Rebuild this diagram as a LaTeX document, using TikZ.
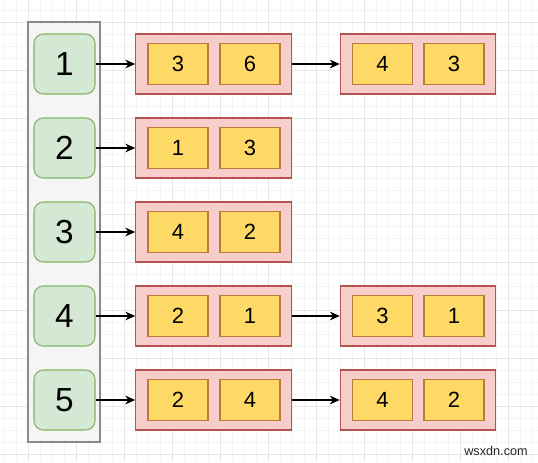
\documentclass[tikz,border=0pt]{standalone}
\usepackage{fontspec}
\setmainfont{Liberation Sans}
\usetikzlibrary{arrows.meta}
\definecolor{gridminor}{HTML}{F4F4F4}
\definecolor{gridmajor}{HTML}{E6E6E6}
\definecolor{contfill}{HTML}{F5F5F5}
\definecolor{contdraw}{HTML}{8A8A8A}
\definecolor{greenfill}{HTML}{D5E8D4}
\definecolor{greendraw}{HTML}{82B366}
\definecolor{pinkfill}{HTML}{F8CECC}
\definecolor{pinkdraw}{HTML}{B85450}
\definecolor{yelfill}{HTML}{FFD966}
\definecolor{yeldraw}{HTML}{B97A3C}
\begin{document}
\begin{tikzpicture}[x=0.75pt,y=-0.75pt,
  minorgrid/.style={draw=gridminor,line width=0.5pt},
  majorgrid/.style={draw=gridmajor,line width=0.6pt},
  container/.style={draw=contdraw,fill=contfill,line width=1.3pt,minimum width=54pt,minimum height=315pt,inner sep=0pt},
  greenbox/.style={draw=greendraw,fill=greenfill,line width=0.8pt,rounded corners=7pt,minimum width=45.75pt,minimum height=45pt,inner sep=0pt,font=\fontsize{25}{29}\selectfont},
  pinkbox/.style={draw=pinkdraw,fill=pinkfill,line width=0.8pt,minimum width=116.5pt,minimum height=45pt,inner sep=0pt},
  yelbox/.style={draw=yeldraw,fill=yelfill,line width=0.8pt,minimum width=45pt,minimum height=30.75pt,inner sep=0pt,font=\fontsize{16.5}{19}\selectfont},
  arr/.style={draw=black,line width=1.2pt,-{Stealth[length=7.5pt,width=6.5pt]}}]
\useasboundingbox (0,0) rectangle (538,462);
\fill[white] (0,0) rectangle (538,462);
\foreach \x in {4,16,...,536} \draw[minorgrid] (\x,0) -- (\x,462);
\foreach \y in {10,22,...,460} \draw[minorgrid] (0,\y) -- (538,\y);
\foreach \x in {28,76,...,536} \draw[majorgrid] (\x,0) -- (\x,462);
\foreach \y in {22,70,...,460} \draw[majorgrid] (0,\y) -- (538,\y);
\node[container] (col) at (64,232) {};
\foreach \r/\a/\b [evaluate=\r as \yc using {64+84*(\r-1)}] in {1/3/6,2/1/3,3/4/2,4/2/1,5/2/4} {
  \node[greenbox] (g\r) at (64.5,\yc) {\r};
  \node[pinkbox] (pa\r) at (213.5,\yc) {};
  \node[yelbox] (ya\r) at (178,\yc) {\a};
  \node[yelbox] (yb\r) at (250,\yc) {\b};
  \draw[arr] (g\r.east) -- (pa\r.west);
}
\foreach \r/\a/\b [evaluate=\r as \yc using {64+84*(\r-1)}] in {1/4/3,4/3/1,5/4/2} {
  \node[pinkbox] (pb\r) at (418,\yc) {};
  \node[yelbox] (yc\r) at (382.5,\yc) {\a};
  \node[yelbox] (yd\r) at (454,\yc) {\b};
  \draw[arr] (pa\r.east) -- (pb\r.west);
}
\node[anchor=base,font=\fontsize{9.5}{11}\selectfont,text=black!85] (wm) at (496,455) {wsxdn.com};
\end{tikzpicture}
\end{document}
